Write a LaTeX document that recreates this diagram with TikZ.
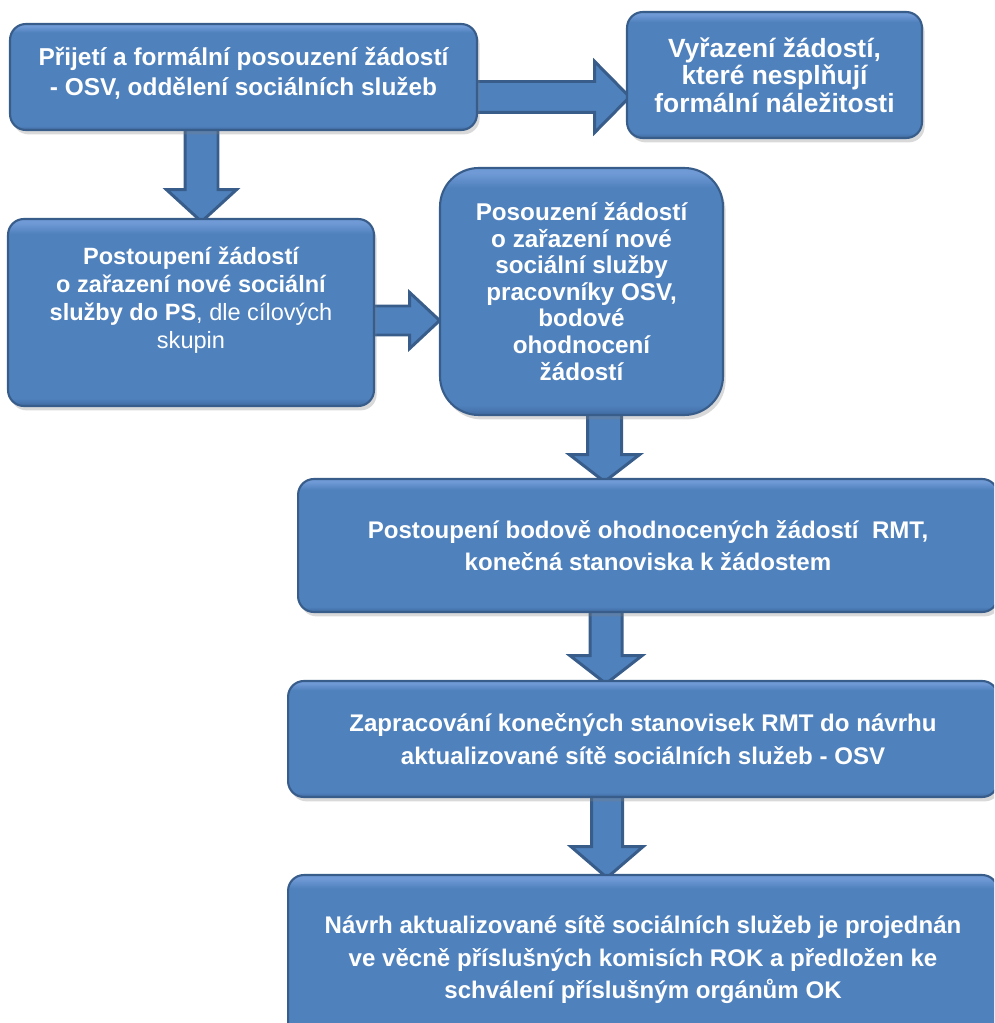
\documentclass[tikz,border=0pt]{standalone}
\usepackage{fontspec}
\setmainfont{Liberation Sans}
\usetikzlibrary{calc,shadows}

\definecolor{boxblue}{RGB}{79,129,189}
\definecolor{boxline}{RGB}{56,93,138}
\definecolor{boxtop}{RGB}{112,154,214}
\definecolor{boxlow}{RGB}{64,106,160}
\pgfdeclareverticalshading{bevel}{100bp}{color(0bp)=(boxlow); color(25bp)=(boxlow); color(27bp)=(boxblue); color(71bp)=(boxblue); color(74bp)=(boxtop); color(100bp)=(boxtop)}

\tikzset{
  stepbox/.style={rectangle, rounded corners=9pt, draw=boxline, line width=1.2pt,
    shading=bevel, text=white, align=center, inner sep=0pt,
    font=\fontsize{13.7}{18.5}\selectfont\bfseries,
    drop shadow={shadow xshift=1.5pt, shadow yshift=-2.5pt, opacity=.3}},
  fatarrow/.style={draw=boxline, fill=boxblue, line width=1.7pt, line join=miter}
}

% block arrow: start, tip, half shaft, half head, head length
\newcommand{\fatarrow}[5]{%
  \coordinate (fa) at ($(#2)!#5!(#1)$);
  \draw[fatarrow] ($(#1)!#3!90:(#2)$) -- ($(fa)!#3!90:(#2)$) -- ($(fa)!#4!90:(#2)$)
    -- (#2) -- ($(fa)!#4!-90:(#2)$) -- ($(fa)!#3!-90:(#2)$) -- ($(#1)!#3!-90:(#2)$) -- cycle;
}

\begin{document}
\begin{tikzpicture}[x=0.02cm, y=-0.02cm]
  \useasboundingbox (0,0) rectangle (994,1023);
  \clip (0,0) rectangle (994,1023);

  % boxes, only placed to get the anchors
  \path
    (243.5,77)  node[minimum width=9.34cm, minimum height=2.12cm] (A) {}
    (774.5,75)  node[minimum width=5.9cm,  minimum height=2.52cm] (B) {}
    (191,312.5) node[minimum width=7.32cm, minimum height=3.74cm] (C) {}
    (581.5,291.5) node[minimum width=5.66cm, minimum height=4.94cm] (D) {}
    (648,545.5) node[minimum width=14cm,   minimum height=2.66cm] (E) {}
    (643,739)   node[minimum width=14.2cm, minimum height=2.32cm] (F) {}
    (643,960)   node[minimum width=14.2cm, minimum height=3.4cm]  (G) {};

  % arrows behind the boxes
  \coordinate (ab1) at ($(A.east)+(-4,20)$);
  \coordinate (ab2) at ($(B.west |- ab1)+(3,0)$);
  \fatarrow{ab1}{ab2}{0.31cm}{0.71cm}{0.7cm}
  \coordinate (ac1) at ($(A.south)+(-42,-4)$);
  \coordinate (ac2) at ($(C.north -| ac1)+(0,3)$);
  \fatarrow{ac1}{ac2}{0.33cm}{0.7cm}{0.64cm}
  \coordinate (cd1) at ($(C.east)+(-4,8)$);
  \coordinate (cd2) at (D.west |- cd1);
  \fatarrow{cd1}{cd2}{0.29cm}{0.56cm}{0.6cm}
  \coordinate (de1) at ($(D.south)+(23,-4)$);
  \coordinate (de2) at ($(E.north -| de1)+(0,3)$);
  \fatarrow{de1}{de2}{0.34cm}{0.7cm}{0.54cm}
  \coordinate (ef1) at ($(E.south)+(-42,-4)$);
  \coordinate (ef2) at ($(F.north -| ef1)+(0,3)$);
  \fatarrow{ef1}{ef2}{0.32cm}{0.72cm}{0.56cm}
  \coordinate (fg1) at ($(F.south)+(-36,-4)$);
  \coordinate (fg2) at ($(G.north -| fg1)+(0,3)$);
  \fatarrow{fg1}{fg2}{0.31cm}{0.72cm}{0.62cm}

  \node[stepbox, font=\fontsize{13.9}{17}\selectfont\bfseries,
        minimum width=9.34cm, minimum height=2.12cm] at (A)
    {Přijetí a formální posouzení žádostí\\- OSV, oddělení sociálních služeb\\[-11pt]\mbox{}};
  \node[stepbox, font=\fontsize{15}{15.6}\selectfont\bfseries,
        minimum width=5.9cm, minimum height=2.52cm] at (B)
    {Vyřazení žádostí,\\které nesplňují\\formální náležitosti};
  \node[stepbox, font=\fontsize{13.4}{16}\selectfont\bfseries,
        minimum width=7.32cm, minimum height=3.74cm] at (C)
    {Postoupení žádostí\\o zařazení nové sociální\\služby do PS{\mdseries, dle cílových}\\{\mdseries skupin}\\[0.5pt]\mbox{}};
  \node[stepbox, font=\fontsize{13.8}{15.1}\selectfont\bfseries, rounded corners=22pt,
        minimum width=5.66cm, minimum height=4.94cm] at (D)
    {Posouzení žádostí\\o zařazení nové\\sociální služby\\pracovníky OSV,\\bodové\\ohodnocení\\žádostí};
  \node[stepbox, minimum width=14cm, minimum height=2.66cm] at (E)
    {Postoupení bodově ohodnocených žádostí\ \ RMT,\\konečná stanoviska k žádostem};
  \node[stepbox, minimum width=14.2cm, minimum height=2.32cm] at (F)
    {Zapracování konečných stanovisek RMT do návrhu\\aktualizované sítě sociálních služeb - OSV};
  \node[stepbox, minimum width=14.2cm, minimum height=3.4cm] at (G)
    {Návrh aktualizované sítě sociálních služeb je projednán\\ve věcně příslušných komisích ROK a předložen ke\\schválení příslušným orgánům OK};
\end{tikzpicture}
\end{document}
